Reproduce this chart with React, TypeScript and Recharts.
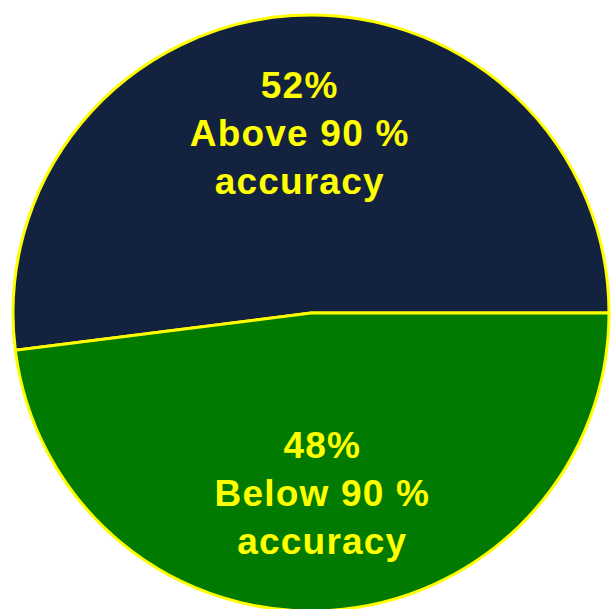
import { PieChart, Pie, Cell } from "recharts";

const LABELS = ["Above 90 %", "Below 90 %"];
const SUBLABELS = ["accuracy", "accuracy"];
const VALUES = [52, 48];
const COLORS = ["#13233F", "#007A00"];

const chartData = LABELS.map((name, i) => ({
  name,
  sub: SUBLABELS[i],
  value: VALUES[i],
}));

interface CustomLabelProps {
  cx: number;
  cy: number;
  midAngle: number;
  outerRadius: number;
  index: number;
}

const CustomLabel = ({ cx, cy, midAngle, outerRadius, index }: CustomLabelProps) => {
  const RADIAN = Math.PI / 180;
  const radius = outerRadius * 0.605;
  const x = cx + radius * Math.cos(-midAngle * RADIAN);
  const y = cy + radius * Math.sin(-midAngle * RADIAN);
  const entry = chartData[index];
  const lineH = 48;

  return (
    <text
      x={x}
      y={y}
      fill="#FFFF00"
      textAnchor="middle"
      dominantBaseline="central"
      fontSize="37"
      fontWeight="bold"
      letterSpacing="1.2"
      fontFamily="'Liberation Sans', Arial, sans-serif"
    >
      <tspan x={x} dy={-lineH}>{`${entry.value}%`}</tspan>
      <tspan x={x} dy={lineH}>{entry.name}</tspan>
      <tspan x={x} dy={lineH}>{entry.sub}</tspan>
    </text>
  );
};

export default function App() {
  return (
    <div style={{ position: "absolute", left: 0, top: 0, width: 613, height: 609, background: "#fff" }}>
      <PieChart width={613} height={609} margin={{ top: 0, right: 0, bottom: 0, left: 0 }}>
        <Pie
          data={chartData}
          cx={311}
          cy={313}
          outerRadius={298}
          startAngle={0}
          endAngle={360}
          dataKey="value"
          stroke="#FFFF00"
          strokeWidth={3}
          labelLine={false}
          label={CustomLabel}
          isAnimationActive={false}
        >
          {chartData.map((entry, index) => (
            <Cell key={`cell-${index}`} fill={COLORS[index % COLORS.length]} />
          ))}
        </Pie>
      </PieChart>
    </div>
  );
}
